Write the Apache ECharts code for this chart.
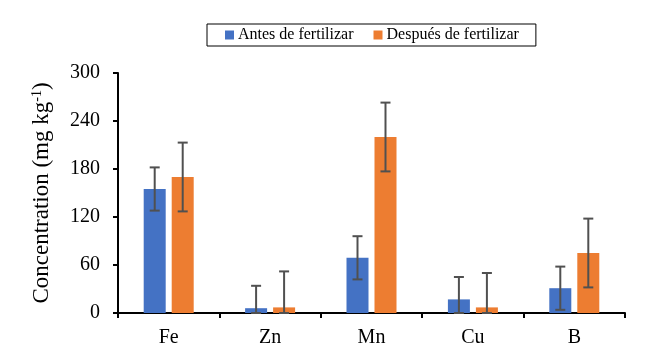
<!DOCTYPE html>
<html><head><meta charset="utf-8">
<script src="https://cdn.jsdelivr.net/npm/echarts@6/dist/echarts.min.js"></script>
<style>html,body{margin:0;padding:0;background:#fff}#c{width:650px;height:362px}</style>
</head><body><div id="c"></div>
<script>
var categories = ['Fe', 'Zn', 'Mn', 'Cu', 'B'];
var antes = [155, 6, 69, 17, 31];
var despues = [170, 7, 220, 7, 75];
var errAntes = [27, 28, 27, 28, 27];
var errDespues = [43, 45, 43, 43, 43];
var yTicks = [0, 60, 120, 180, 240, 300];

var FONT = '"Liberation Serif", "Times New Roman", serif';
var BAR_W = 22, GAP = 6;

function errSeries(vals, errs, sign) {
  var data = vals.map(function (v, i) { return [i, Math.max(0, v - errs[i]), v + errs[i]]; });
  return {
    type: 'custom', z: 10, silent: true,
    data: data,
    encode: { x: 0, y: [1, 2] },
    renderItem: function (params, api) {
      var off = sign * (BAR_W + GAP) / 2;
      var lo = api.coord([api.value(0), api.value(1)]);
      var hi = api.coord([api.value(0), api.value(2)]);
      var x = lo[0] + off, cap = 5;
      var st = { stroke: '#505050', lineWidth: 2 };
      return { type: 'group', children: [
        { type: 'line', shape: { x1: x, y1: lo[1], x2: x, y2: hi[1] }, style: st },
        { type: 'line', shape: { x1: x - cap, y1: hi[1], x2: x + cap, y2: hi[1] }, style: st },
        { type: 'line', shape: { x1: x - cap, y1: lo[1], x2: x + cap, y2: lo[1] }, style: st }
      ]};
    }
  };
}

var chart = echarts.init(document.getElementById('c'), null, { renderer: 'canvas' });
chart.setOption({
  animation: false,
  backgroundColor: '#fff',
  grid: { left: 118, right: 25, top: 73, bottom: 49, containLabel: false },
  legend: {
    top: 24, left: 207,
    itemWidth: 9, itemHeight: 9, itemGap: 20,
    padding: [3, 17, 3, 18],
    borderColor: '#000', borderWidth: 1,
    textStyle: { fontFamily: FONT, fontSize: 16, color: '#000', padding: [0, 0, 0, -1] },
    data: [{ name: 'Antes de fertilizar', icon: 'rect' }, { name: 'Después de fertilizar', icon: 'rect' }]
  },
  xAxis: {
    type: 'category', data: categories,
    axisLine: { lineStyle: { color: '#000', width: 2 } },
    axisTick: { show: true, length: 5, lineStyle: { color: '#000', width: 2 } },
    axisLabel: { fontFamily: FONT, fontSize: 20, color: '#000', margin: 15 }
  },
  yAxis: {
    type: 'value', min: 0, max: 300, interval: 60,
    axisLine: { show: true, lineStyle: { color: '#000', width: 2 } },
    axisTick: { show: true, length: 5, lineStyle: { color: '#000', width: 2 } },
    splitLine: { show: false },
    axisLabel: { fontFamily: FONT, fontSize: 20, color: '#000', margin: 18,
      formatter: function (v) { return yTicks.indexOf(v) >= 0 ? String(v) : ''; } },
    name: '{a|Concentration (mg kg}{s|-1}{a|)}',
    nameLocation: 'middle', nameGap: 64, nameRotate: 90,
    nameTextStyle: {
      rich: {
        a: { fontFamily: FONT, fontSize: 23, color: '#000' },
        s: { fontFamily: FONT, fontSize: 14, color: '#000', verticalAlign: 'top', padding: [0, 0, 10, 0] }
      }
    }
  },
  series: [
    { name: 'Antes de fertilizar', type: 'bar', data: antes, barWidth: BAR_W, barGap: (GAP / BAR_W * 100) + '%',
      itemStyle: { color: '#4472C4' } },
    { name: 'Después de fertilizar', type: 'bar', data: despues, barWidth: BAR_W,
      itemStyle: { color: '#ED7D31' } },
    errSeries(antes, errAntes, -1),
    errSeries(despues, errDespues, 1)
  ]
});
</script></body></html>
